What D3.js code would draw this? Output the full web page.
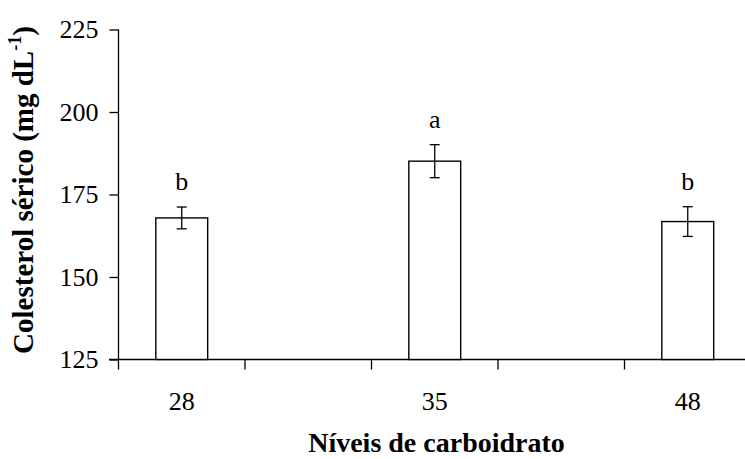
<!DOCTYPE html>
<html>
<head>
<meta charset="utf-8">
<script src="https://cdn.jsdelivr.net/npm/d3@7"></script>
<style>
  html, body { margin: 0; padding: 0; background: #fff; }
  svg { display: block; }
  text { font-family: "Liberation Serif", "Times New Roman", serif; fill: #000; }
</style>
</head>
<body>
<script>
const categories = ["28", "35", "48"];
const slots = ["28", "g1", "35", "g2", "48"];
const means = [167.9, 185.1, 166.8];
const errors = [3.3, 5.0, 4.5];
const letters = ["b", "a", "b"];
const yTicks = [125, 150, 175, 200, 225];

const W = 745, H = 459;
const svg = d3.select("body").append("svg").attr("width", W).attr("height", H);

const y = d3.scaleLinear().domain([125, 225]).range([359.5, 29.5]);
const x = d3.scaleBand().domain(slots).range([118.5, 751]).paddingInner(0).paddingOuter(0);
const barW = x.bandwidth() * 0.41;

// Y axis
const yAxis = d3.axisLeft(y).tickValues(yTicks).tickSize(9).tickPadding(11).tickFormat(d3.format("d"));
const gy = svg.append("g").attr("transform", "translate(118.5,0)").call(yAxis);
gy.select(".domain").attr("d", `M0,${y(225)}V${y(125)}`).attr("stroke", "#000").attr("stroke-width", 1.3);
gy.selectAll(".tick line").attr("stroke", "#000").attr("stroke-width", 1.3);
gy.selectAll(".tick text").attr("font-size", 26).attr("font-family", "Liberation Serif").attr("fill", "#000");

// X axis line
svg.append("line").attr("x1", 109).attr("x2", W).attr("y1", y(125)).attr("y2", y(125))
  .attr("stroke", "#000").attr("stroke-width", 1.3);
// X ticks at band boundaries
const bounds = [x(slots[0])].concat(slots.slice(1).map(s => x(s)));
svg.selectAll(".xtick").data(bounds).enter().append("line")
  .attr("x1", d => d).attr("x2", d => d)
  .attr("y1", y(125)).attr("y2", y(125) + 10)
  .attr("stroke", "#000").attr("stroke-width", 1.3);

// X tick labels
svg.selectAll(".xlab").data(categories).enter().append("text")
  .attr("x", d => x(d) + x.bandwidth() / 2)
  .attr("y", 409.5)
  .attr("text-anchor", "middle")
  .attr("font-size", 26)
  .text(d => d);

// Bars
const cx = d => x(d) + x.bandwidth() / 2;
svg.selectAll(".bar").data(categories).enter().append("rect")
  .attr("x", d => cx(d) - barW / 2)
  .attr("width", barW)
  .attr("y", (d, i) => y(means[i]))
  .attr("height", (d, i) => y(125) - y(means[i]))
  .attr("fill", "#fff").attr("stroke", "#000").attr("stroke-width", 1.4);

// Error bars
const eb = svg.selectAll(".eb").data(categories).enter().append("g");
eb.append("line")
  .attr("x1", d => cx(d)).attr("x2", d => cx(d))
  .attr("y1", (d, i) => y(means[i] + errors[i]))
  .attr("y2", (d, i) => y(means[i] - errors[i]))
  .attr("stroke", "#000").attr("stroke-width", 1.3);
eb.append("line")
  .attr("x1", d => cx(d) - 5).attr("x2", d => cx(d) + 5)
  .attr("y1", (d, i) => y(means[i] + errors[i]))
  .attr("y2", (d, i) => y(means[i] + errors[i]))
  .attr("stroke", "#000").attr("stroke-width", 1.3);
eb.append("line")
  .attr("x1", d => cx(d) - 5).attr("x2", d => cx(d) + 5)
  .attr("y1", (d, i) => y(means[i] - errors[i]))
  .attr("y2", (d, i) => y(means[i] - errors[i]))
  .attr("stroke", "#000").attr("stroke-width", 1.3);

// Letters
svg.selectAll(".let").data(categories).enter().append("text")
  .attr("x", d => cx(d))
  .attr("y", (d, i) => y(means[i] + errors[i]) - 17)
  .attr("text-anchor", "middle")
  .attr("font-size", 26)
  .text((d, i) => letters[i]);

// Axis titles
svg.append("text")
  .attr("x", (118 + 745) / 2 + 5)
  .attr("y", 452)
  .attr("text-anchor", "middle")
  .attr("font-size", 28)
  .attr("font-weight", "bold")
  .text("Níveis de carboidrato");

const yl = svg.append("text")
  .attr("transform", "translate(33,190) rotate(-90)")
  .attr("text-anchor", "middle")
  .attr("font-size", 29)
  .attr("font-weight", "bold");
yl.append("tspan").text("Colesterol sérico (mg dL");
yl.append("tspan").attr("font-size", 18).attr("dy", -12).text("-1");
yl.append("tspan").attr("dy", 12).text(")");
</script>
</body>
</html>
